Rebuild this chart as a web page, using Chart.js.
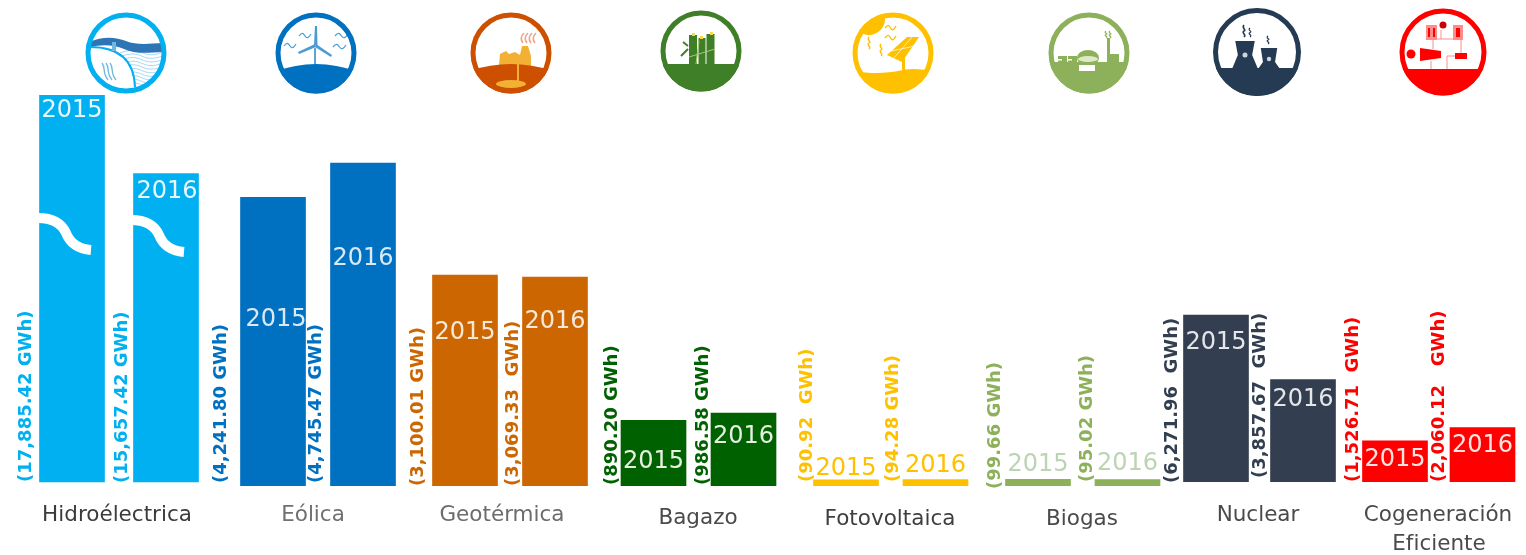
<!DOCTYPE html>
<html lang="es">
<head>
<meta charset="utf-8">
<title>Generación de energía limpia 2015-2016</title>
<style>
html,body{margin:0;padding:0;background:#fff;}
canvas{display:block;filter:blur(0.6px);}
</style>
<script src="https://cdn.jsdelivr.net/npm/chart.js@4"></script>
</head>
<body>
<canvas id="c" width="1526" height="555"></canvas>
<script>
// ---------- data ----------
const categories = ['Hidroélectrica','Eólica','Geotérmica','Bagazo','Fotovoltaica','Biogas','Nuclear','Cogeneración Eficiente'];
const years = ['2015','2016'];
const labels2015 = ['(17,885.42 GWh)','(4,241.80 GWh)','(3,100.01 GWh)','(890.20 GWh)','(90.92  GWh)','(99.66 GWh)','(6,271.96  GWh)','(1,526.71  GWh)'];
const labels2016 = ['(15,657.42 GWh)','(4,745.47 GWh)','(3,069.33  GWh)','(986.58 GWh)','(94.28 GWh)','(95.02 GWh)','(3,857.67  GWh)','(2,060.12   GWh)'];
// bar heights as the picture draws them (the source chart breaks hydro and does not keep one scale throughout)
const drawn2015 = [5680,4241.8,3100.01,965,90.92,99.66,2450,600];
const drawn2016 = [4530,4745.47,3069.33,1072,94.28,95.02,1500,795];

// ---------- layout ----------
const SCALE = 0.06807;                 // px per axis unit
const BASELINE = 486;
const barLift = [59,0,0,0,0,0,62,62];   // axis units the bar foot sits above the baseline
const slot2015 = [72,273,465,653.5,846,1038,1216,1395];
const slot2016 = [166,363,555,743.5,935.5,1127.5,1303,1482.5];
const labelGap2015 = [46,52,47,41.5,39,43,44,42];
const labelGap2016 = [44,47,42,40.5,42.5,40.5,43,43.5];
const labelFoot2015 = [482,483,486,485,482,489,483,482];
const labelFoot2016 = [483,483,486,485,482,482,478,482];
const yearY2015 = [111,320,333,462,469,465,343,460];
const yearY2016 = [192,259,322,437,466,464,400,446];
const yearColor2015 = ['#e6f7fe','#dbe9f5','#f7e8d8','#e6f0e0','#ffc000','#bcd3b4','#e4e6ea','#ffe4e4'];
const yearColor2016 = ['#e6f7fe','#dbe9f5','#f7e8d8','#e6f0e0','#ffc000','#bcd3b4','#e4e6ea','#ffe4e4'];
const barColors = ['#00b0f0','#0070c0','#cc6600','#006100','#ffc000','#8db05a','#333f50','#ff0000'];
const nameColors = ['#3c3c3c','#707070','#6c6c6c','#4a4a4a','#3f3f3f','#4a4a4a','#4a4a4a','#4a4a4a'];
const nameX = [117,313,502,698,890,1082,1258,1438];
const nameY = [515,515,515,518,519,519,515,515];
const iconPos = [[126,53,40.5],[316,53,40.5],[511,53,40.5],[701,51,40.5],[893,53,40.5],[1089,53,40.5],[1257,52,44],[1443,52,43.5]];

const MONO = 'DejaVu Sans';

function path(ctx,pts,close){ctx.beginPath();pts.forEach((p,i)=>i?ctx.lineTo(p[0],p[1]):ctx.moveTo(p[0],p[1]));if(close)ctx.closePath();}
function squiggle(ctx,x,y,len,col,lw){ctx.strokeStyle=col;ctx.lineWidth=lw||1.3;ctx.beginPath();ctx.moveTo(x,y);
  ctx.bezierCurveTo(x+len*.25,y-4,x+len*.35,y-3,x+len*.5,y);ctx.bezierCurveTo(x+len*.65,y+3,x+len*.8,y+2,x+len,y-2);ctx.stroke();}
function vsquiggle(ctx,x,y,len,col,lw){ctx.strokeStyle=col;ctx.lineWidth=lw||1.3;ctx.beginPath();ctx.moveTo(x,y);
  ctx.bezierCurveTo(x-3,y+len*.25,x+3,y+len*.4,x,y+len*.5);ctx.bezierCurveTo(x-3,y+len*.65,x+3,y+len*.8,x,y+len);ctx.stroke();}

const icons = [
 function hydro(ctx){
  const c='#00b0f0';
  for(let i=0;i<10;i++)squiggle(ctx,-6,0+i*3.6,46,'#a8d8f2',1);
  ctx.fillStyle='#fff';ctx.beginPath();ctx.moveTo(-36,-6);ctx.bezierCurveTo(-10,-6,7,4,8,34);ctx.lineTo(-40,34);ctx.closePath();ctx.fill();
  ctx.fillStyle='#2e75b6';ctx.beginPath();ctx.moveTo(-36,-11);ctx.bezierCurveTo(-24,-17,-10,-16,0,-12);ctx.bezierCurveTo(10,-8,20,-9,38,-10);
  ctx.lineTo(38,-1);ctx.bezierCurveTo(20,0,8,1,-2,-4);ctx.bezierCurveTo(-14,-9,-26,-8,-36,-6);ctx.closePath();ctx.fill();
  ctx.strokeStyle=c;ctx.lineWidth=2;ctx.beginPath();ctx.moveTo(-36,-6);ctx.bezierCurveTo(-10,-6,8,4,9,34);ctx.stroke();
  for(let i=0;i<3;i++){ctx.strokeStyle='#6fb8e0';ctx.lineWidth=1.3;ctx.beginPath();ctx.moveTo(-24+i*4,10);ctx.bezierCurveTo(-20+i*4,15,-24+i*4,20,-18+i*4,27);ctx.stroke();}
  ctx.fillStyle='#6fb8e0';ctx.fillRect(-14,-11,4,9);
 },
 function wind(ctx){
  const c='#0070c0',l='#4a9bd4';
  ctx.fillStyle=c;ctx.beginPath();ctx.moveTo(-42,19);ctx.quadraticCurveTo(0,3,42,19);ctx.lineTo(42,44);ctx.lineTo(-42,44);ctx.closePath();ctx.fill();
  ctx.strokeStyle='#5aa5d8';ctx.lineWidth=2;path(ctx,[[-1,-5],[-1,11]]);ctx.stroke();
  ctx.fillStyle=l;
  path(ctx,[[-2,-8],[-1,-27],[1,-27],[1.5,-8]],true);ctx.fill();
  path(ctx,[[-1,-9],[-18,-1],[-17,1],[0,-6]],true);ctx.fill();
  path(ctx,[[0,-9],[16,2],[15,4],[-1,-6]],true);ctx.fill();
  [[-17,-17,12],[-32,-7,12],[19,-17,13],[17,-6,13]].forEach(s=>squiggle(ctx,s[0],s[1],s[2],l,1.2));
 },
 function geo(ctx){
  const c='#cc5000',o='#f2b035';
  ctx.fillStyle=o;path(ctx,[[-12,12],[-11,1],[-5,-2],[-2,1],[4,-1],[9,2],[11,-7],[17,-7],[20,3],[20,14]],true);ctx.fill();
  ctx.fillStyle=c;ctx.beginPath();ctx.moveTo(-42,18);ctx.quadraticCurveTo(0,4,42,18);ctx.lineTo(42,44);ctx.lineTo(-42,44);ctx.closePath();ctx.fill();
  ctx.fillStyle=o;ctx.beginPath();ctx.ellipse(0,31,15,4,0,0,7);ctx.fill();ctx.fillRect(6,10,2,20);
  ctx.strokeStyle='#eaa78a';ctx.lineWidth=1.6;
  [10,14,18,22].forEach(x=>{ctx.beginPath();ctx.moveTo(x+2,-10);ctx.quadraticCurveTo(x-2,-15,x+3,-20);ctx.stroke();});
 },
 function bagasse(ctx){
  const c='#3f7f27',l='#a8cc6a';
  ctx.fillStyle=c;ctx.fillRect(-42,13,84,32);
  [[-12,-16,8],[-2.5,-13,7],[5.5,-17,8]].forEach(s=>{ctx.fillStyle=c;ctx.fillRect(s[0],s[1],s[2],31);});
  ctx.fillStyle='#f4d94c';ctx.fillRect(-9,-18,3,3);ctx.fillRect(-1,-15,3,3);ctx.fillRect(9,-19,3,3);
  ctx.strokeStyle=c;ctx.lineWidth=2;ctx.beginPath();ctx.moveTo(-13,-2);ctx.lineTo(-20,5);ctx.moveTo(-13,-5);ctx.lineTo(-18,-9);ctx.stroke();
  ctx.strokeStyle=l;ctx.lineWidth=1;ctx.beginPath();ctx.moveTo(-12,6);ctx.lineTo(14,-2);ctx.moveTo(-5,13);ctx.lineTo(-2,-10);ctx.stroke();
 },
 function solar(ctx){
  const c='#ffc000';
  ctx.fillStyle=c;ctx.beginPath();ctx.moveTo(-42,18);ctx.bezierCurveTo(-20,21,-5,20,5,18);ctx.bezierCurveTo(15,15,30,15,42,20);ctx.lineTo(42,44);ctx.lineTo(-42,44);ctx.closePath();ctx.fill();
  ctx.beginPath();ctx.arc(-24,-34,16,0,7);ctx.fill();
  ctx.fillRect(9,5,3,14);
  path(ctx,[[-6,2],[14,-16],[26,-16],[9,9]],true);ctx.fill();
  ctx.strokeStyle='#fff';ctx.lineWidth=.7;path(ctx,[[0,6],[19,-16]]);ctx.stroke();path(ctx,[[-2,-2],[22,-7]]);ctx.stroke();
  [[-8,-25,11],[-8,-15,11]].forEach(s=>squiggle(ctx,s[0],s[1],s[2],c,1.4));
  vsquiggle(ctx,-24,-16,12,c,1.4);vsquiggle(ctx,-12,-9,12,c,1.4);
 },
 function biogas(ctx){
  const c='#8db05a';
  ctx.fillStyle=c;ctx.fillRect(-42,9,84,36);
  ctx.fillRect(18,-15,3,25);ctx.fillRect(18,1,12,9);
  ctx.fillRect(-31,3,9,7);ctx.fillRect(-21,3,9,7);
  ctx.beginPath();ctx.ellipse(-1,5,11,8,0,0,7);ctx.fill();
  ctx.fillStyle='#dfe9c8';ctx.beginPath();ctx.ellipse(-1,6,10,3,0,0,7);ctx.fill();
  ctx.fillStyle='#fff';ctx.fillRect(-10,12,16,6);ctx.fillRect(-31,6,4,1.5);ctx.fillRect(-21,6,4,1.5);
  vsquiggle(ctx,17,-22,7,c,1.2);vsquiggle(ctx,21,-22,7,c,1.2);
 },
 function nuclear(ctx){
  const c='#243b53';
  ctx.fillStyle=c;ctx.fillRect(-46,16,92,32);
  function tower(x,w,t){path(ctx,[[x-w*.75,t],[x+w*.75,t],[x+w*.55,t+14],[x+w,17],[x-w,17],[x-w*.55,t+14]],true);ctx.fill();}
  tower(-12,13,-11);tower(12,11,-4);
  ctx.fillStyle='#cdd5dd';[[-12,3,2.5],[12,7,2.2]].forEach(s=>{ctx.beginPath();ctx.arc(s[0],s[1],s[2],0,7);ctx.fill();});
  vsquiggle(ctx,-13,-27,12,c,1.6);vsquiggle(ctx,-7,-24,9,c,1.2);vsquiggle(ctx,11,-16,8,c,1.2);
 },
 function cogen(ctx){
  const c='#ff0000',p='#ff8d8d';
  ctx.fillStyle=c;ctx.fillRect(-46,17,92,30);
  ctx.beginPath();ctx.arc(-32,2,4.5,0,7);ctx.fill();
  path(ctx,[[-23,-4],[-2,-1],[-2,6],[-23,9]],true);ctx.fill();
  ctx.fillRect(12,1,12,6);
  ctx.fillStyle=p;ctx.fillRect(-17,-27,11,15);ctx.fillRect(10,-27,10,15);
  ctx.fillStyle=c;ctx.fillRect(-15,-24,2,9);ctx.fillRect(-10,-24,2,9);ctx.fillRect(13,-24,4,9);
  ctx.beginPath();ctx.arc(0,-27,3.5,0,7);ctx.fillStyle='#cc0000';ctx.fill();
  ctx.strokeStyle=p;ctx.lineWidth=1;ctx.beginPath();ctx.moveTo(-6,-13);ctx.lineTo(10,-13);ctx.moveTo(-10,-12);ctx.lineTo(-10,-3);ctx.moveTo(-2,-13);ctx.lineTo(-2,-22);ctx.moveTo(-12,9);ctx.lineTo(-12,17);ctx.moveTo(4,4);ctx.lineTo(12,4);ctx.moveTo(4,4);ctx.lineTo(4,17);ctx.moveTo(18,-12);ctx.lineTo(18,1);ctx.stroke();
 }
];
const ringColors = ['#00b0f0','#0070c0','#cc5000','#3f7f27','#ffc000','#8db05a','#243b53','#ff0000'];

function breakPath(ctx,x,y){
  ctx.beginPath();ctx.moveTo(x-1,y);
  ctx.bezierCurveTo(x+12,y,x+22,y+4,x+27,y+15);
  ctx.bezierCurveTo(x+31,y+25,x+40,y+31,x+52,y+32);
  ctx.strokeStyle='#fff';ctx.lineWidth=10;ctx.stroke();
}

const decorations = {
  id:'decorations',
  afterDatasetsDraw(chart){
    const ctx=chart.ctx;
    const m15=chart.getDatasetMeta(0).data, m16=chart.getDatasetMeta(1).data;
    ctx.save();
    // broken-bar marks on the two hydro columns
    breakPath(ctx,m15[0].x-33,218);
    breakPath(ctx,m16[0].x-34,220);
    // year labels inside / above bars
    ctx.textAlign='center';ctx.textBaseline='middle';ctx.font='24px "'+MONO+'"';
    categories.forEach((c,i)=>{
      ctx.fillStyle=yearColor2015[i];ctx.fillText(years[0],m15[i].x+(i==1?3:0),yearY2015[i]);
      ctx.fillStyle=yearColor2016[i];ctx.fillText(years[1],m16[i].x+(i==0?1:0),yearY2016[i]);
    });
    // rotated value labels
    ctx.textAlign='left';ctx.font='bold 18px "'+MONO+'"';
    categories.forEach((c,i)=>{
      [[m15,labels2015,labelGap2015,labelFoot2015],[m16,labels2016,labelGap2016,labelFoot2016]].forEach(a=>{
        ctx.save();
        ctx.translate(a[0][i].x-a[2][i],a[3][i]);
        ctx.rotate(-Math.PI/2);
        ctx.fillStyle=barColors[i];
        ctx.fillText(a[1][i],0,0);
        ctx.restore();
      });
    });
    // category names
    ctx.textAlign='center';ctx.font='21.5px "'+MONO+'"';
    categories.forEach((c,i)=>{
      ctx.fillStyle=nameColors[i];
      const parts=i===7?['Cogeneración','Eficiente']:[c];
      parts.forEach((t,k)=>ctx.fillText(t,nameX[i]+k,nameY[i]+k*29));
    });
    // icons
    iconPos.forEach((p,i)=>{
      ctx.save();ctx.translate(p[0],p[1]);
      ctx.beginPath();ctx.arc(0,0,p[2],0,Math.PI*2);ctx.fillStyle='#fff';ctx.fill();
      ctx.save();ctx.beginPath();ctx.arc(0,0,p[2],0,Math.PI*2);ctx.clip();
      icons[i](ctx);
      ctx.restore();
      ctx.beginPath();ctx.arc(0,0,p[2]-2.5,0,Math.PI*2);ctx.strokeStyle=ringColors[i];ctx.lineWidth=5;ctx.stroke();
      ctx.restore();
    });
    ctx.restore();
  }
};

function series(slots,drawn){
  return categories.map((c,i)=>({x:slots[i],y:[barLift[i],barLift[i]+drawn[i]]}));
}

new Chart(document.getElementById('c'),{
  type:'bar',
  data:{datasets:[
    {label:years[0],data:series(slot2015,drawn2015),backgroundColor:barColors,barThickness:65,grouped:false},
    {label:years[1],data:series(slot2016,drawn2016),backgroundColor:barColors,barThickness:65,grouped:false}
  ]},
  options:{
    responsive:false,animation:false,
    layout:{padding:{left:0,right:0,top:0,bottom:555-BASELINE}},
    plugins:{legend:{display:false},tooltip:{enabled:false},title:{display:false}},
    scales:{
      x:{type:'linear',display:false,offset:false,min:0,max:1526,grid:{display:false}},
      y:{type:'linear',display:false,min:0,max:BASELINE/SCALE,grid:{display:false}}
    }
  },
  plugins:[decorations]
});
</script>
</body>
</html>
